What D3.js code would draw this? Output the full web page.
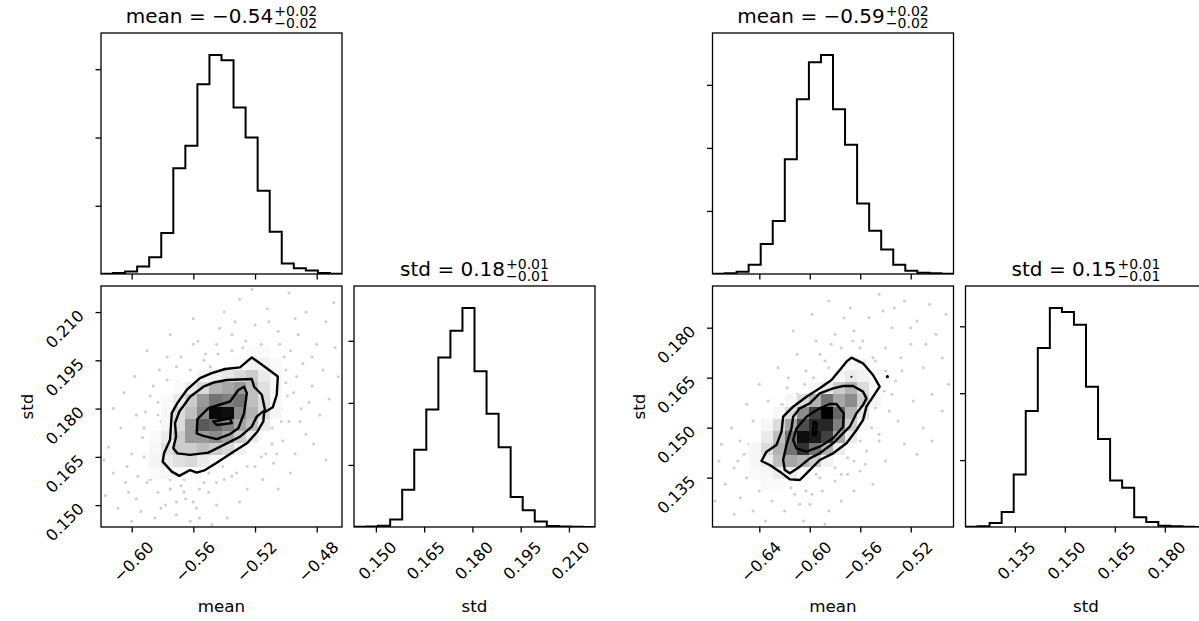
<!DOCTYPE html>
<meta charset="utf-8">
<script src="https://d3js.org/d3.v7.min.js"></script>
<style>
  body { margin: 0; background: #fff; }
  text { font-family: "DejaVu Sans", sans-serif; fill: #000; }
</style>
<div id="vis"></div>
<script type="text/javascript">

// ---- data ----
var leftMeanRange = [-0.6199, -0.4636];
var leftStdRange = [0.1432, 0.2181];
var rightMeanRange = [-0.6771, -0.4861];
var rightStdRange = [0.1202, 0.1925];

var leftMeanTicks = [-0.60, -0.56, -0.52, -0.48];
var leftStdTicks = [0.150, 0.165, 0.180, 0.195, 0.210];
var rightMeanTicks = [-0.64, -0.60, -0.56, -0.52];
var rightStdTicks = [0.135, 0.150, 0.165, 0.180];
var countTicks = [200, 400, 600];

// 20-bin histograms (counts)
var leftMeanCounts = [1, 3, 7, 22, 49, 120, 310, 376, 556, 642, 626, 488, 400, 244, 124, 31, 17, 10, 3, 1];
var leftStdCounts = [1, 2, 4, 24, 120, 249, 379, 546, 632, 706, 502, 365, 257, 97, 54, 18, 3, 2, 1, 0];
var rightMeanCounts = [1, 2, 7, 29, 95, 168, 364, 554, 672, 695, 523, 410, 224, 137, 78, 29, 10, 4, 2, 1];
var rightStdCounts = [1, 2, 12, 45, 157, 347, 535, 655, 643, 605, 419, 263, 139, 117, 29, 15, 4, 2, 1, 0];

var leftTitles = [
  {name: "mean", value: "\u22120.54", plus: "+0.02", minus: "\u22120.02"},
  {name: "std", value: "0.18", plus: "+0.01", minus: "\u22120.01"}
];
var rightTitles = [
  {name: "mean", value: "\u22120.59", plus: "+0.02", minus: "\u22120.02"},
  {name: "std", value: "0.15", plus: "+0.01", minus: "\u22120.01"}
];

// 2d histogram shading (darkness 0..1), first row / first column index of the grid
var leftDensityStart = [5, 4];
var leftDensity = [
  [0, 0, 0, 0, 0, 0, 0, 0, 0.02, 0.02, 0],
  [0, 0, 0, 0, 0, 0, 0, 0.02, 0.05, 0.05, 0.02],
  [0, 0, 0, 0, 0.03, 0.06, 0.1, 0.15, 0.2, 0.08, 0.03],
  [0, 0, 0.02, 0.08, 0.15, 0.3, 0.35, 0.4, 0.25, 0.12, 0.03],
  [0, 0.02, 0.08, 0.2, 0.4, 0.55, 0.5, 0.55, 0.25, 0.14, 0.03],
  [0, 0.03, 0.14, 0.25, 0.45, 0.97, 0.95, 0.45, 0.3, 0.14, 0.04],
  [0, 0.03, 0.14, 0.4, 0.65, 0.6, 0.5, 0.35, 0.25, 0.08, 0],
  [0.02, 0.08, 0.2, 0.4, 0.4, 0.45, 0.35, 0.2, 0.08, 0, 0],
  [0.03, 0.12, 0.2, 0.2, 0.25, 0.2, 0.15, 0.05, 0, 0, 0],
  [0.04, 0.08, 0.12, 0.15, 0.08, 0.04, 0, 0, 0, 0, 0],
  [0.02, 0.03, 0.03, 0, 0, 0, 0, 0, 0, 0, 0]
];
var rightDensityStart = [6, 3];
var rightDensity = [
  [0, 0, 0, 0, 0, 0, 0, 0, 0.02, 0.03, 0],
  [0, 0, 0, 0, 0, 0, 0, 0.03, 0.08, 0.05, 0.02],
  [0, 0, 0, 0, 0, 0.03, 0.08, 0.2, 0.3, 0.14, 0.03],
  [0, 0, 0, 0.03, 0.14, 0.3, 0.55, 0.35, 0.45, 0.2, 0.04],
  [0, 0, 0.03, 0.14, 0.45, 0.75, 1.0, 0.6, 0.3, 0.1, 0],
  [0, 0.03, 0.14, 0.35, 0.7, 0.85, 0.85, 0.5, 0.2, 0.03, 0],
  [0, 0.08, 0.25, 0.55, 0.95, 0.9, 0.75, 0.35, 0.08, 0, 0],
  [0.03, 0.14, 0.3, 0.55, 0.8, 0.55, 0.3, 0.08, 0, 0, 0],
  [0.03, 0.08, 0.25, 0.35, 0.3, 0.2, 0.05, 0, 0, 0, 0],
  [0.02, 0.03, 0.08, 0.08, 0.03, 0, 0, 0, 0, 0, 0],
  [0, 0.02, 0.02, 0, 0, 0, 0, 0, 0, 0, 0]
];

// contour lines [mean, std], outermost first
var leftContours = [
  [[-0.5221,0.1959],[-0.5146,0.1933],[-0.5052,0.1900],[-0.5059,0.1843],[-0.5085,0.1804],[-0.5141,0.1788],[-0.5146,0.1760],[-0.5185,0.1728],[-0.5253,0.1692],[-0.5340,0.1666],[-0.5438,0.1635],[-0.5524,0.1609],[-0.5578,0.1601],[-0.5621,0.1609],[-0.5691,0.1591],[-0.5740,0.1604],[-0.5799,0.1635],[-0.5790,0.1661],[-0.5751,0.1703],[-0.5740,0.1786],[-0.5704,0.1817],[-0.5643,0.1858],[-0.5557,0.1895],[-0.5481,0.1910],[-0.5394,0.1923],[-0.5297,0.1928]],
  [[-0.5383,0.1889],[-0.5221,0.1892],[-0.5206,0.1868],[-0.5156,0.1843],[-0.5135,0.1796],[-0.5189,0.1775],[-0.5221,0.1744],[-0.5297,0.1713],[-0.5383,0.1692],[-0.5503,0.1663],[-0.5621,0.1656],[-0.5704,0.1661],[-0.5730,0.1677],[-0.5712,0.1713],[-0.5719,0.1755],[-0.5691,0.1791],[-0.5621,0.1837],[-0.5535,0.1868],[-0.5470,0.1881]],
  [[-0.5578,0.1723],[-0.5574,0.1767],[-0.5503,0.1801],[-0.5362,0.1822],[-0.5308,0.1858],[-0.5271,0.1868],[-0.5253,0.1848],[-0.5271,0.1786],[-0.5308,0.1739],[-0.5362,0.1721],[-0.5448,0.1705],[-0.5535,0.1715]],
  [[-0.5470,0.1760],[-0.5362,0.1770],[-0.5351,0.1755],[-0.5448,0.1749]]
];
var rightContours = [
  [[-0.5670,0.1710],[-0.5578,0.1693],[-0.5499,0.1658],[-0.5446,0.1623],[-0.5551,0.1563],[-0.5578,0.1523],[-0.5630,0.1493],[-0.5709,0.1453],[-0.5815,0.1423],[-0.5921,0.1403],[-0.6026,0.1363],[-0.6079,0.1343],[-0.6158,0.1345],[-0.6238,0.1368],[-0.6317,0.1388],[-0.6383,0.1400],[-0.6343,0.1428],[-0.6264,0.1448],[-0.6224,0.1488],[-0.6211,0.1533],[-0.6132,0.1563],[-0.6026,0.1593],[-0.5921,0.1618],[-0.5828,0.1643],[-0.5762,0.1673],[-0.5709,0.1698]],
  [[-0.5657,0.1625],[-0.5578,0.1608],[-0.5551,0.1588],[-0.5578,0.1568],[-0.5630,0.1543],[-0.5683,0.1503],[-0.5762,0.1473],[-0.5815,0.1453],[-0.5921,0.1423],[-0.6000,0.1408],[-0.6079,0.1383],[-0.6158,0.1363],[-0.6198,0.1373],[-0.6211,0.1403],[-0.6185,0.1448],[-0.6145,0.1498],[-0.6132,0.1533],[-0.6079,0.1558],[-0.6000,0.1573],[-0.5921,0.1603],[-0.5815,0.1618],[-0.5736,0.1625]],
  [[-0.5789,0.1571],[-0.5731,0.1543],[-0.5736,0.1503],[-0.5815,0.1468],[-0.5921,0.1443],[-0.6026,0.1428],[-0.6105,0.1438],[-0.6132,0.1463],[-0.6105,0.1498],[-0.6026,0.1533],[-0.5921,0.1558],[-0.5842,0.1571]],
  [[-0.5968,0.1517],[-0.5945,0.1514],[-0.5953,0.1478],[-0.5976,0.1481]]
];
var rightIslands = [[-0.5670, 0.1653], [-0.5385, 0.1653]];

// individual samples visible outside the contours
var leftSamples = [
  [-0.530,0.214],[-0.512,0.211],[-0.498,0.216],[-0.487,0.210],[-0.474,0.207],[-0.469,0.213],[-0.505,0.204],[-0.492,0.203],
  [-0.480,0.200],[-0.468,0.199],[-0.520,0.206],[-0.535,0.203],[-0.545,0.200],[-0.528,0.199],[-0.515,0.197],[-0.501,0.196],
  [-0.489,0.194],[-0.476,0.192],[-0.466,0.190],[-0.483,0.187],[-0.495,0.185],[-0.490,0.180],[-0.478,0.178],[-0.498,0.176],
  [-0.487,0.172],[-0.472,0.183],[-0.502,0.170],[-0.494,0.166],[-0.508,0.163],[-0.482,0.169],[-0.474,0.164],[-0.515,0.158],
  [-0.505,0.155],[-0.525,0.155],[-0.497,0.160],[-0.500,0.188],[-0.503,0.180],[-0.509,0.174],[-0.540,0.210],[-0.522,0.217],
  [-0.560,0.208],[-0.575,0.203],[-0.552,0.197],[-0.590,0.198],[-0.568,0.196],[-0.582,0.192],[-0.598,0.190],[-0.577,0.189],
  [-0.605,0.185],[-0.588,0.184],[-0.612,0.180],[-0.597,0.178],[-0.583,0.182],[-0.607,0.174],[-0.593,0.171],[-0.615,0.168],
  [-0.586,0.168],[-0.600,0.166],[-0.560,0.200],[-0.543,0.205],[-0.571,0.193],[-0.581,0.176],
  [-0.612,0.160],[-0.604,0.157],[-0.617,0.153],[-0.597,0.152],[-0.609,0.149],[-0.590,0.157],[-0.583,0.154],[-0.594,0.148],
  [-0.578,0.150],[-0.600,0.145],[-0.571,0.147],[-0.585,0.146],[-0.565,0.152],[-0.558,0.149],[-0.562,0.145],[-0.550,0.154],
  [-0.545,0.150],[-0.540,0.158],[-0.553,0.157],[-0.575,0.158],[-0.588,0.162],[-0.568,0.156],[-0.538,0.146],[-0.530,0.151],
  [-0.548,0.144],[-0.532,0.160],[-0.520,0.162],[-0.603,0.162],[-0.618,0.164],[-0.592,0.174],[-0.579,0.165],[-0.513,0.166],
  [-0.578,0.184],[-0.570,0.188],[-0.562,0.192],[-0.553,0.195],[-0.544,0.197],[-0.535,0.198],[-0.526,0.201],[-0.516,0.200],
  [-0.583,0.178],[-0.580,0.171],[-0.584,0.166],[-0.588,0.158],[-0.500,0.192],[-0.499,0.184],[-0.503,0.176],[-0.509,0.169],
  [-0.516,0.165],[-0.525,0.162],[-0.535,0.159],[-0.545,0.157],[-0.556,0.155],[-0.566,0.154],[-0.575,0.155],[-0.585,0.160],
  [-0.510,0.184],[-0.497,0.198],[-0.541,0.162],[-0.529,0.166],[-0.566,0.158],[-0.560,0.151],[-0.571,0.151],[-0.557,0.201],
  [-0.549,0.193],[-0.586,0.187],[-0.519,0.193],[-0.504,0.200],[-0.493,0.190],[-0.506,0.166],[-0.550,0.160],[-0.592,0.165],
  [-0.511,0.207],[-0.494,0.208],[-0.483,0.196],[-0.507,0.193],[-0.491,0.176],[-0.596,0.159],[-0.581,0.149],[-0.573,0.162],
  [-0.556,0.146],[-0.602,0.154],[-0.577,0.196],[-0.533,0.207],[-0.485,0.182],[-0.591,0.179]
];
var rightSamples = [
  [-0.545,0.190],[-0.525,0.188],[-0.505,0.187],[-0.492,0.184],[-0.515,0.182],[-0.535,0.180],[-0.553,0.183],[-0.565,0.179],
  [-0.500,0.178],[-0.520,0.175],[-0.540,0.174],[-0.495,0.171],[-0.510,0.168],[-0.527,0.167],[-0.548,0.170],[-0.490,0.163],
  [-0.503,0.160],[-0.518,0.158],[-0.535,0.160],[-0.530,0.152],[-0.510,0.150],[-0.495,0.155],[-0.545,0.148],[-0.525,0.145],
  [-0.540,0.140],[-0.555,0.143],[-0.515,0.142],[-0.560,0.137],[-0.550,0.133],[-0.533,0.186],[-0.558,0.176],[-0.503,0.146],
  [-0.580,0.178],[-0.595,0.176],[-0.610,0.172],[-0.588,0.170],[-0.625,0.168],[-0.603,0.167],[-0.640,0.163],[-0.618,0.162],
  [-0.633,0.158],[-0.650,0.157],[-0.645,0.152],[-0.662,0.150],[-0.655,0.146],[-0.670,0.145],[-0.628,0.155],[-0.573,0.183],
  [-0.598,0.184],[-0.613,0.179],[-0.585,0.188],
  [-0.672,0.140],[-0.660,0.138],[-0.667,0.133],[-0.650,0.135],[-0.655,0.129],[-0.640,0.131],[-0.645,0.125],[-0.630,0.128],
  [-0.635,0.122],[-0.620,0.125],[-0.612,0.130],[-0.600,0.127],[-0.605,0.122],[-0.590,0.131],[-0.585,0.125],[-0.575,0.128],
  [-0.580,0.134],[-0.565,0.131],[-0.660,0.124],[-0.675,0.128],[-0.640,0.141],[-0.625,0.134],[-0.595,0.136],[-0.570,0.136],
  [-0.652,0.142],[-0.615,0.137],[-0.588,0.121],
  [-0.575,0.174],[-0.585,0.168],[-0.597,0.165],[-0.610,0.160],[-0.622,0.157],[-0.630,0.151],[-0.637,0.146],[-0.643,0.141],
  [-0.640,0.136],[-0.628,0.135],[-0.615,0.132],[-0.603,0.131],[-0.592,0.135],[-0.580,0.138],[-0.570,0.141],[-0.560,0.146],
  [-0.551,0.150],[-0.548,0.156],[-0.541,0.161],[-0.540,0.167],[-0.550,0.171],[-0.560,0.174],[-0.566,0.176],[-0.532,0.164],
  [-0.537,0.155],[-0.545,0.146],[-0.604,0.163],[-0.617,0.165],[-0.648,0.145],[-0.598,0.130],[-0.575,0.136],[-0.565,0.140],
  [-0.556,0.139],[-0.528,0.171],[-0.583,0.175],[-0.633,0.149],
  [-0.520,0.180],[-0.508,0.175],[-0.542,0.185],[-0.592,0.172],[-0.657,0.140],[-0.622,0.139],[-0.608,0.127],[-0.568,0.186]
];

// ---- layout ----
var W = 1199, H = 621;
var size = 241, gap = 12, topY = 33;
var tickFont = 16, labelFont = 16.7, titleFont = 20, supFont = 14;

var svg = d3.select("#vis").append("svg")
    .attr("width", W)
    .attr("height", H);

var grey = d3.scaleLinear().domain([0, 1]).range(["#ffffff", "#000000"]);
var clipId = 0;

function panelClip(x, y) {
  var id = "clip" + (clipId++);
  svg.append("clipPath").attr("id", id)
    .append("rect").attr("x", x).attr("y", y).attr("width", size).attr("height", size);
  return "url(#" + id + ")";
}

function frame(x, y) {
  svg.append("rect")
    .attr("x", x).attr("y", y).attr("width", size).attr("height", size)
    .attr("fill", "none").attr("stroke", "#000").attr("stroke-width", 1.3);
}

function styleAxis(g) {
  g.select(".domain").remove();
  g.selectAll(".tick line").attr("stroke", "#000").attr("stroke-width", 1.3);
  g.selectAll(".tick text").attr("font-size", tickFont).attr("font-family", "DejaVu Sans");
}

function rotateBottom(g) {
  g.selectAll(".tick text").each(function() {
    var w = this.getComputedTextLength(), h = tickFont * 0.73;
    var xe = 0.707 * (w + h) / 2 + 1;
    var ye = 13 + 0.707 * h;
    d3.select(this).attr("x", null).attr("y", null).attr("dy", null)
      .attr("text-anchor", "end")
      .attr("transform", "translate(" + xe + "," + ye + ") rotate(-45)");
  });
}

function rotateLeft(g) {
  g.selectAll(".tick text").each(function() {
    var h = tickFont * 0.73;
    d3.select(this).attr("x", null).attr("y", null).attr("dy", null)
      .attr("text-anchor", "end")
      .attr("transform", "translate(-16," + (0.707 * h - 4) + ") rotate(-45)");
  });
}

function histPath(counts, range, x, y) {
  var step = (range[1] - range[0]) / counts.length;
  var pts = [[range[0], 0]];
  counts.forEach(function(c, i) {
    pts.push([range[0] + i * step, c]);
    pts.push([range[0] + (i + 1) * step, c]);
  });
  pts.push([range[1], 0]);
  return d3.line().x(function(d) { return x(d[0]); }).y(function(d) { return y(d[1]); })(pts);
}

function title(t, cx, baseline) {
  var g = svg.append("g");
  var main = g.append("text").attr("font-size", titleFont).text(t.name + " = " + t.value);
  var L = main.node().getComputedTextLength();
  var sup = g.append("text").attr("x", L + 1).attr("y", -7).attr("font-size", supFont).text(t.plus);
  var sub = g.append("text").attr("x", L + 1).attr("y", 5).attr("font-size", supFont).text(t.minus);
  var total = L + 1 + Math.max(sup.node().getComputedTextLength(), sub.node().getComputedTextLength());
  g.attr("transform", "translate(" + (cx - total / 2) + "," + baseline + ")");
}

function drawCorner(c) {
  var x0 = c.left, x1 = c.left + size + gap;
  var y0 = topY, y1 = topY + size + gap;

  var xM = d3.scaleLinear().domain(c.meanRange).range([x0, x0 + size]);
  var xS = d3.scaleLinear().domain(c.stdRange).range([x1, x1 + size]);
  var yS = d3.scaleLinear().domain(c.stdRange).range([y1 + size, y1]);
  var yH1 = d3.scaleLinear().domain([0, 1.1 * d3.max(c.meanCounts)]).range([y0 + size, y0]);
  var yH2 = d3.scaleLinear().domain([0, 1.1 * d3.max(c.stdCounts)]).range([y1 + size, y1]);

  // --- mean histogram ---
  svg.append("path")
    .attr("clip-path", panelClip(x0, y0))
    .attr("d", histPath(c.meanCounts, c.meanRange, xM, yH1))
    .attr("fill", "none").attr("stroke", "#000").attr("stroke-width", 2);
  svg.append("g").attr("transform", "translate(0," + (y0 + size) + ")")
    .call(d3.axisBottom(xM).tickValues(c.meanTicks).tickSize(5.5).tickSizeOuter(0).tickFormat(""))
    .call(styleAxis);
  svg.append("g").attr("transform", "translate(" + x0 + ",0)")
    .call(d3.axisLeft(yH1).tickValues(countTicks).tickSize(5.5).tickSizeOuter(0).tickFormat(""))
    .call(styleAxis);
  frame(x0, y0);
  title(c.titles[0], x0 + size / 2, y0 - 10);

  // --- 2d panel ---
  var clip2 = panelClip(x0, y1);
  var g2 = svg.append("g").attr("clip-path", clip2);
  g2.selectAll("circle").data(c.samples).enter().append("circle")
    .attr("cx", function(d) { return xM(d[0]); })
    .attr("cy", function(d) { return yS(d[1]); })
    .attr("r", 1.5)
    .attr("fill", "#000").attr("fill-opacity", 0.2);

  var contourLine = d3.line()
    .x(function(d) { return xM(d[0]); })
    .y(function(d) { return yS(d[1]); })
    .curve(d3.curveLinearClosed);

  g2.append("path").attr("d", contourLine(c.contours[0])).attr("fill", "#fff").attr("stroke", "none");

  var dm = (c.meanRange[1] - c.meanRange[0]) / 20;
  var ds = (c.stdRange[1] - c.stdRange[0]) / 20;
  c.density.forEach(function(rowVals, i) {
    rowVals.forEach(function(v, j) {
      if (!v) return;
      var r = c.densityStart[0] + i, col = c.densityStart[1] + j;
      var m0 = c.meanRange[0] + col * dm, m1 = m0 + dm;
      var s1 = c.stdRange[1] - r * ds, s0 = s1 - ds;
      g2.append("rect")
        .attr("x", xM(m0)).attr("y", yS(s1))
        .attr("width", xM(m1) - xM(m0)).attr("height", yS(s0) - yS(s1))
        .attr("fill", grey(v))
        .attr("shape-rendering", "crispEdges");
    });
  });

  g2.selectAll("path.contour").data(c.contours).enter().append("path")
    .attr("class", "contour")
    .attr("d", contourLine)
    .attr("fill", "none").attr("stroke", "#000").attr("stroke-width", 2.4)
    .attr("stroke-linejoin", "round");

  g2.selectAll("circle.island").data(c.islands).enter().append("circle")
    .attr("class", "island")
    .attr("cx", function(d) { return xM(d[0]); })
    .attr("cy", function(d) { return yS(d[1]); })
    .attr("r", function(d, i) { return i === 0 ? 1 : 1.6; })
    .attr("fill", "#000");

  svg.append("g").attr("transform", "translate(0," + (y1 + size) + ")")
    .call(d3.axisBottom(xM).tickValues(c.meanTicks).tickSize(5.5).tickSizeOuter(0).tickFormat(d3.format(".2f")))
    .call(styleAxis).call(rotateBottom);
  svg.append("g").attr("transform", "translate(" + x0 + ",0)")
    .call(d3.axisLeft(yS).tickValues(c.stdTicks).tickSize(5.5).tickSizeOuter(0).tickFormat(d3.format(".3f")))
    .call(styleAxis).call(rotateLeft);
  frame(x0, y1);

  // --- std histogram ---
  svg.append("path")
    .attr("clip-path", panelClip(x1, y1))
    .attr("d", histPath(c.stdCounts, c.stdRange, xS, yH2))
    .attr("fill", "none").attr("stroke", "#000").attr("stroke-width", 2);
  svg.append("g").attr("transform", "translate(0," + (y1 + size) + ")")
    .call(d3.axisBottom(xS).tickValues(c.stdTicks).tickSize(5.5).tickSizeOuter(0).tickFormat(d3.format(".3f")))
    .call(styleAxis).call(rotateBottom);
  svg.append("g").attr("transform", "translate(" + x1 + ",0)")
    .call(d3.axisLeft(yH2).tickValues(countTicks).tickSize(5.5).tickSizeOuter(0).tickFormat(""))
    .call(styleAxis);
  frame(x1, y1);
  title(c.titles[1], x1 + size / 2, y1 - 10);

  // axis labels
  var labelY = y1 + size + 0.3 * size + 13;
  svg.append("text").attr("x", x0 + size / 2).attr("y", labelY)
    .attr("text-anchor", "middle").attr("font-size", labelFont).text("mean");
  svg.append("text").attr("x", x1 + size / 2).attr("y", labelY)
    .attr("text-anchor", "middle").attr("font-size", labelFont).text("std");
  svg.append("text")
    .attr("transform", "translate(" + (x0 - 68) + "," + (y1 + size / 2) + ") rotate(-90)")
    .attr("text-anchor", "middle").attr("font-size", labelFont).text("std");
}

drawCorner({
  left: 101,
  meanRange: leftMeanRange, stdRange: leftStdRange,
  meanTicks: leftMeanTicks, stdTicks: leftStdTicks,
  meanCounts: leftMeanCounts, stdCounts: leftStdCounts,
  titles: leftTitles,
  density: leftDensity, densityStart: leftDensityStart,
  contours: leftContours, islands: [],
  samples: leftSamples
});

drawCorner({
  left: 712.5,
  meanRange: rightMeanRange, stdRange: rightStdRange,
  meanTicks: rightMeanTicks, stdTicks: rightStdTicks,
  meanCounts: rightMeanCounts, stdCounts: rightStdCounts,
  titles: rightTitles,
  density: rightDensity, densityStart: rightDensityStart,
  contours: rightContours, islands: rightIslands,
  samples: rightSamples
});

</script>
